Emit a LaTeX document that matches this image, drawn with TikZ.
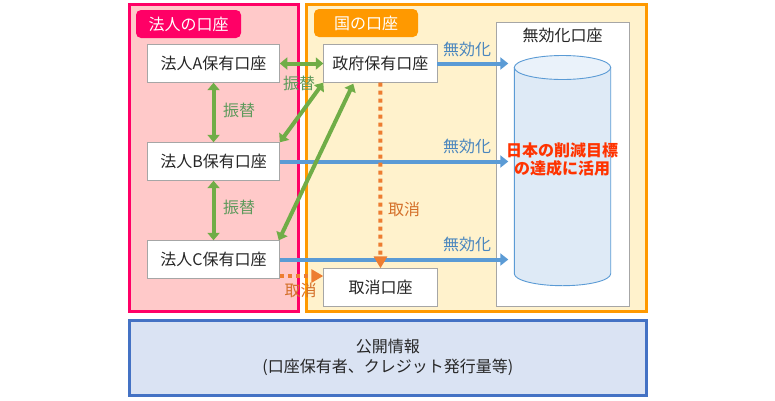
\documentclass[tikz,border=0pt]{standalone}
\usepackage{fontspec}
\setmainfont{Noto Sans CJK JP}
\usetikzlibrary{arrows.meta,calc}
\definecolor{pinkline}{HTML}{FF0066}
\definecolor{pinkfill}{HTML}{FFC9C9}
\definecolor{orangeline}{HTML}{FF9900}
\definecolor{orangefill}{HTML}{FFF2CC}
\definecolor{blueline}{HTML}{4472C4}
\definecolor{bluefill}{HTML}{DAE3F3}
\definecolor{acctedge}{HTML}{A6A6A6}
\definecolor{inktext}{HTML}{262626}
\definecolor{greenarrow}{HTML}{70AD47}
\definecolor{bluearrow}{HTML}{5B9BD5}
\definecolor{orangearrow}{HTML}{ED7D31}
\definecolor{greentext}{HTML}{5E9A5C}
\definecolor{bluetext}{HTML}{4A86BE}
\definecolor{orangetext}{HTML}{D4702A}
\definecolor{redtext}{HTML}{FF3300}
\definecolor{cylfill}{HTML}{DEEAF6}
\definecolor{cyltop}{HTML}{EAF2FA}
\tikzset{
  txt/.style={font=\fontsize{16}{19.5}\selectfont,inner sep=0pt,outer sep=0pt,align=center},
  zone/.style={draw,line width=3pt,inner sep=0pt,outer sep=0pt,anchor=north west},
  tagbox/.style={txt,fill=#1,text=white,rounded corners=5pt,anchor=north west},
  acct/.style={txt,draw=acctedge,line width=1pt,fill=white,text=inktext,anchor=north west},
  greenlink/.style={draw=greenarrow,line width=4pt,{Triangle[length=7.5pt,width=12pt]}-{Triangle[length=7.5pt,width=12pt]}},
  bluelink/.style={draw=bluearrow,line width=4pt,-{Triangle[length=8pt,width=12pt]}},
  orangelink/.style={draw=orangearrow,line width=4pt,dash pattern=on 4pt off 4pt,-{Triangle[length=12pt,width=13pt]}},
  greenlabel/.style={txt,text=greentext},
  bluelabel/.style={txt,text=bluetext},
  orangelabel/.style={txt,text=orangetext}
}
\begin{document}
\begin{tikzpicture}[x=1pt,y=-1pt]
\useasboundingbox (0,0) rectangle (775,400);
\fill[white] (0,0) rectangle (775,400);
% zones
\node[zone,draw=pinkline,fill=pinkfill,minimum width=169.5pt,minimum height=307.5pt] (corp) at (129,4) {};
\node[zone,draw=orangeline,fill=orangefill,minimum width=340pt,minimum height=307.5pt] (gvt) at (306.5,4) {};
\node[zone,draw=blueline,fill=bluefill,minimum width=517.5pt,minimum height=75pt,txt,text=inktext] (pub) at (129,320) {公開情報\\(口座保有者、クレジット発行量等)};
% tags
\node[tagbox=pinkline,minimum width=105pt,minimum height=28pt] (tagA) at (136,10) {法人の口座};
\node[tagbox=orangeline,minimum width=104pt,minimum height=28pt] (tagB) at (314,9) {国の口座};
% accounts
\node[acct,minimum width=132.5pt,minimum height=38.4pt] (A) at (147.3,44.3) {法人A保有口座};
\node[acct,minimum width=132.5pt,minimum height=38.4pt] (B) at (147.3,142.3) {法人B保有口座};
\node[acct,minimum width=132.5pt,minimum height=38.4pt] (C) at (147.3,240.3) {法人C保有口座};
\node[acct,minimum width=114pt,minimum height=38.4pt] (gov) at (323.3,44.3) {政府保有口座};
\node[acct,minimum width=114.4pt,minimum height=38.4pt] (cancel) at (323.3,268.3) {取消口座};
\node[acct,minimum width=133.4pt,minimum height=284.4pt] (void) at (496.3,22.3) {};
\node[txt,text=inktext] (voidtitle) at (562.5,35.5) {無効化口座};
% cylinder
\filldraw[draw=bluearrow,fill=cylfill,line width=0.9pt] (514.3,67.5) -- (514.3,273.7) .. controls (514.3,280.3) and (535.9,285.7) .. (562.5,285.7) .. controls (589.1,285.7) and (610.7,280.3) .. (610.7,273.7) -- (610.7,67.5) -- cycle;
\filldraw[draw=bluearrow,fill=cyltop,line width=0.9pt] (562.5,67.5) ellipse [x radius=48.2, y radius=12];
\node[txt,text=redtext,font=\fontsize{16}{18.5}\selectfont\bfseries] (goal) at (562,159.5) {日本の削減目標\\の達成に活用};
% blue links
\coordinate (voidin) at ($(void.west)+(12,0)$);
\draw[bluelink] (gov.east) -- (gov.east -| voidin);
\draw[bluelink] (B.east) -- (B.east -| voidin);
\draw[bluelink] (C.east) -- (C.east -| voidin);
% orange links
\coordinate (cstart) at ($(C.south east)+(0,-2.7)$);
\draw[orangelink] (gov.south) -- (cancel.north);
\draw[orangelink] (cstart) -- (cstart -| cancel.west);
% green links
\coordinate (govlow) at ($(gov.south west)+(30,1)$);
\coordinate (cup) at ($(C.north east)+(-1,0)$);
\draw[greenlink] (A.east) -- (gov.west);
\draw[greenlink] (A.south) -- (B.north);
\draw[greenlink] (B.south) -- (C.north);
\draw[greenlink] (gov.south west) -- (B.north east);
\draw[greenlink] (govlow) -- (cup);
% labels
\node[greenlabel] (l1) at (299,83) {振替};
\node[greenlabel] (l2) at (239,110) {振替};
\node[greenlabel] (l3) at (239,207.5) {振替};
\node[orangelabel] (l4) at (404,209) {取消};
\node[orangelabel] (l5) at (300.7,290.7) {取消};
\node[bluelabel] (l6) at (467,49) {無効化};
\node[bluelabel] (l7) at (467,146) {無効化};
\node[bluelabel] (l8) at (467,244) {無効化};
\end{tikzpicture}
\end{document}
